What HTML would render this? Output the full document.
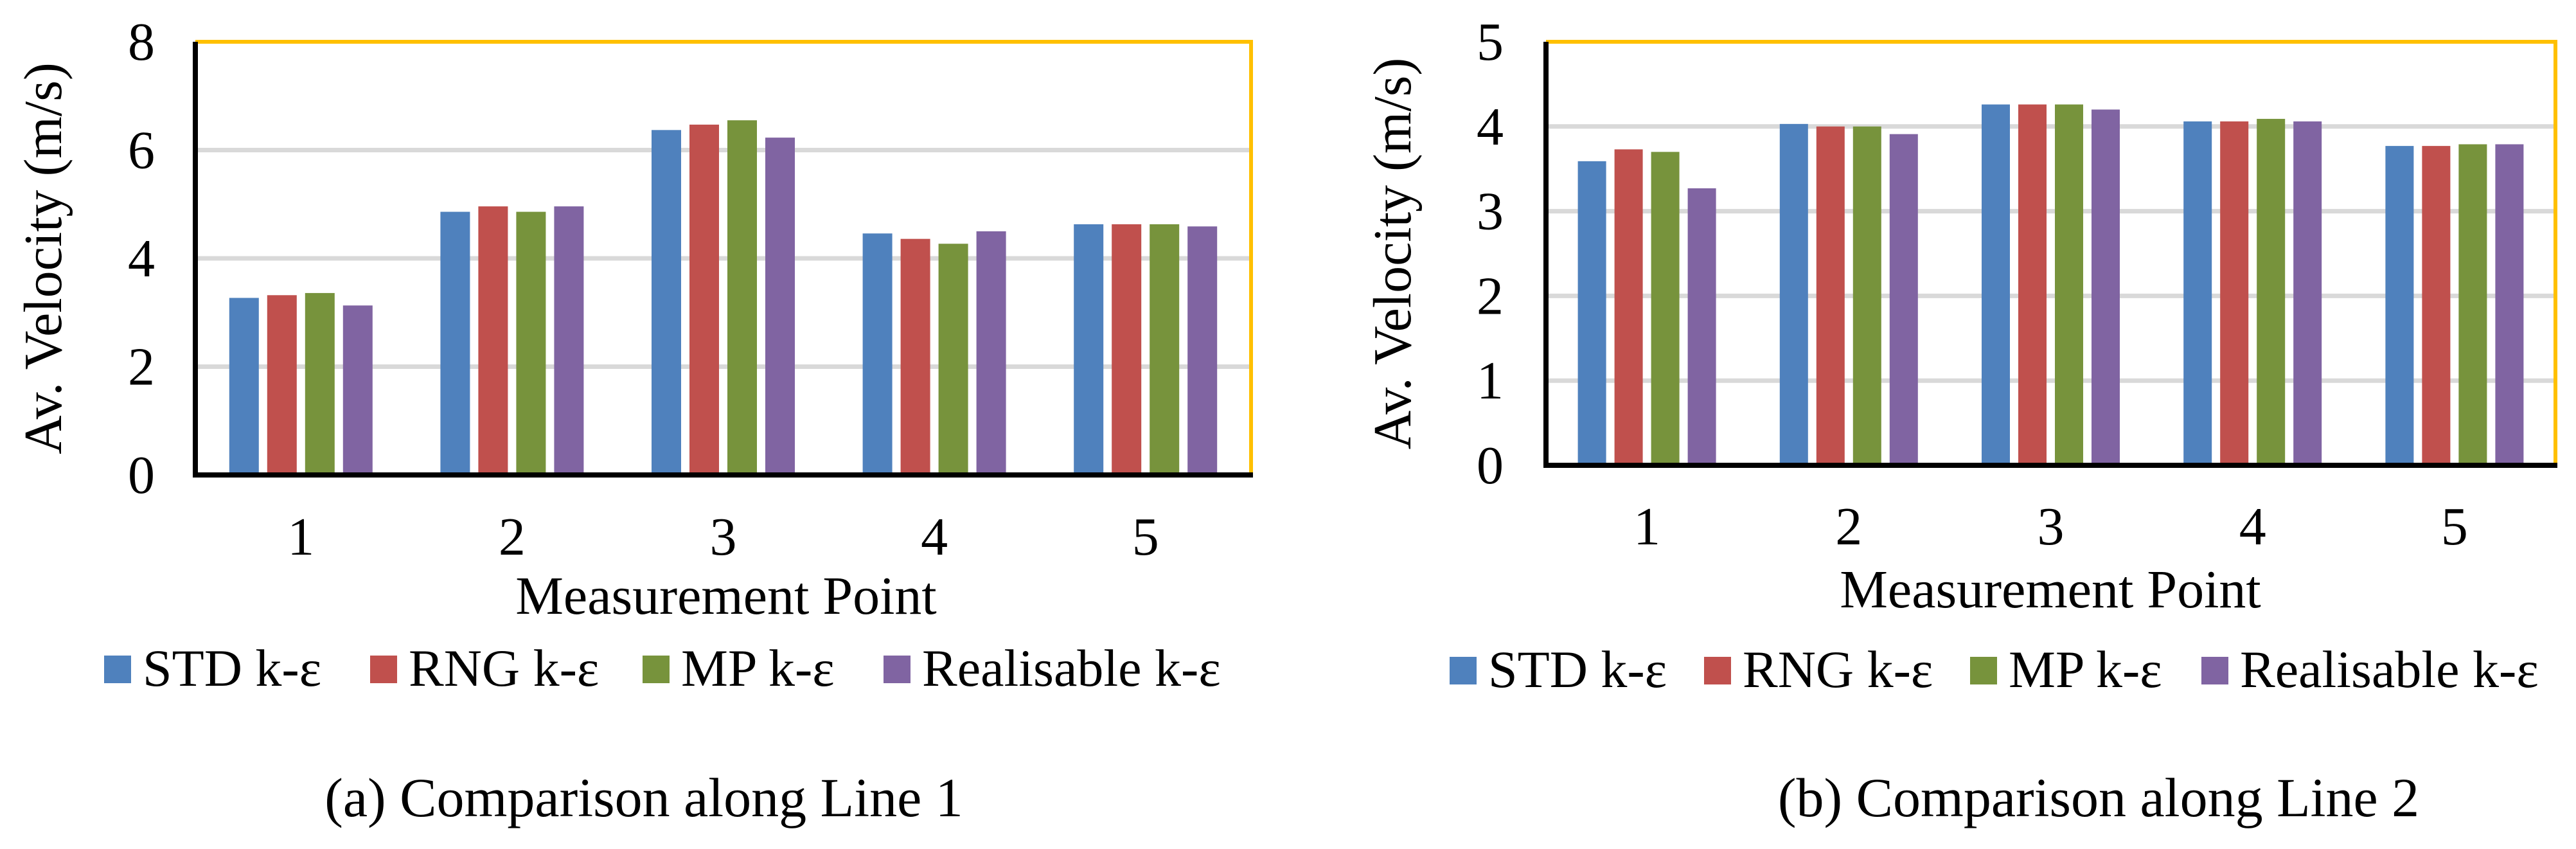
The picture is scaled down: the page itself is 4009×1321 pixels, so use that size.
<!DOCTYPE html>
<html><head><meta charset="utf-8"><style>html,body{margin:0;padding:0;background:#fff}svg{display:block}svg text{font-family:"Liberation Serif","Times New Roman",serif}</style></head>
<body>
<svg id="fig" width="4009" height="1321" xmlns="http://www.w3.org/2000/svg">
<rect width="4009" height="1321" fill="#fff"/>
</svg>
<script>
const categories = ["1","2","3","4","5"];
const seriesNames = ["STD k-ε","RNG k-ε","MP k-ε","Realisable k-ε"];
const colors = ["#4F81BD","#C0504D","#77933C","#8064A2"];
const line1Std = [3.27,4.86,6.37,4.46,4.63];
const line1Rng = [3.32,4.96,6.47,4.36,4.63];
const line1Mp = [3.36,4.86,6.55,4.27,4.63];
const line1Real = [3.13,4.96,6.23,4.50,4.59];
const line2Std = [3.59,4.03,4.26,4.06,3.77];
const line2Rng = [3.73,4.00,4.26,4.06,3.77];
const line2Mp = [3.70,4.00,4.26,4.09,3.79];
const line2Real = [3.27,3.91,4.20,4.06,3.79];
const ticks1 = [0,2,4,6,8];
const ticks2 = [0,1,2,3,4,5];

const NS="http://www.w3.org/2000/svg";
const svg=document.getElementById('fig');
function mk(tag,attrs,parent){const e=document.createElementNS(NS,tag);for(const k in attrs)e.setAttribute(k,attrs[k]);(parent||svg).appendChild(e);return e;}

function chart(cfg){
  const g=mk('g',{});
  
  
  const {x0,x1,y0,y1,max}=cfg;
  const yScale=v=>y0-(v/max)*(y0-y1);
  const cw=(x1-x0)/categories.length;
  const xCenter=i=>x0+cw*(i+0.5);
  cfg.ticks.forEach(t=>{
    if(t>0 && t<max){
      const gl=mk('line',{x1:x0,x2:x1,y1:yScale(t),y2:yScale(t),stroke:'#d9d9d9','stroke-width':7},g);
      
      
    }
    const tl=mk('text',{x:cfg.tickX,y:yScale(t)+28,'text-anchor':'middle','font-size':84},g);
    tl.textContent=t;
    
    
  });
  cfg.series.forEach((arr,s)=>{
    arr.forEach((v,i)=>{
      const bx=xCenter(i)-(cfg.step*1.5)-cfg.bw/2+s*cfg.step;
      const r=mk('rect',{x:bx,y:yScale(v),width:cfg.bw,height:y0-yScale(v),fill:colors[s]},g);
      
      
    });
  });
  const frame=mk('path',{d:`M${x0} ${y1} H${x1} V${y0}`,fill:'none',stroke:'#FFC000','stroke-width':6},g);
  
  
  const ya=mk('line',{x1:x0,x2:x0,y1:y1,y2:y0,stroke:'#000','stroke-width':8},g);
  
  
  const xa=mk('line',{x1:x0-4,x2:x1+3,y1:y0,y2:y0,stroke:'#000','stroke-width':8},g);
  
  
  categories.forEach((c,i)=>{
    const t=mk('text',{x:xCenter(i),y:cfg.xTickY,'text-anchor':'middle','font-size':84},g);
    t.textContent=c;
    
    
  });
  const xt=mk('text',{x:cfg.xTitleX,y:cfg.xTitleY,'text-anchor':'middle','font-size':84},g);
  xt.textContent='Measurement Point';
  
  
  const yt=mk('text',{x:0,y:0,'text-anchor':'middle','font-size':84,transform:`translate(${cfg.yTitleX},${(y0+y1)/2}) rotate(-90)`},g);
  yt.textContent='Av. Velocity (m/s)';
  
  
  cfg.legendX.forEach((lx,s)=>{
    const sw=mk('rect',{x:lx,y:cfg.legendY-22,width:42,height:43,fill:colors[s]},g);
    
    
    const lt=mk('text',{x:lx+60,y:cfg.legendY+25,'font-size':82},g);
    lt.textContent=seriesNames[s];
    
    
  });
  const cap=mk('text',{x:cfg.capX,y:1270,'text-anchor':'middle','font-size':86},g);
  cap.textContent=cfg.caption;
  
  
}

chart({name:'chart-line-1',x0:304,x1:1947,y0:739,y1:65,max:8,ticks:ticks1,
  series:[line1Std,line1Rng,line1Mp,line1Real],bw:46,step:59,tickX:220,xTickY:863,
  xTitleX:1130,xTitleY:955,yTitleX:95,legendY:1042,
  legendX:[162,576,1000,1375],capX:1002,caption:'(a) Comparison along Line 1'});
chart({name:'chart-line-2',x0:2406,x1:3977,y0:724,y1:65,max:5,ticks:ticks2,
  series:[line2Std,line2Rng,line2Mp,line2Real],bw:44,step:57,tickX:2319,xTickY:847,
  xTitleX:3191,xTitleY:945,yTitleX:2195,legendY:1044,
  legendX:[2256,2652,3066,3426],capX:3266,caption:'(b) Comparison along Line 2'});
</script>
</body></html>
